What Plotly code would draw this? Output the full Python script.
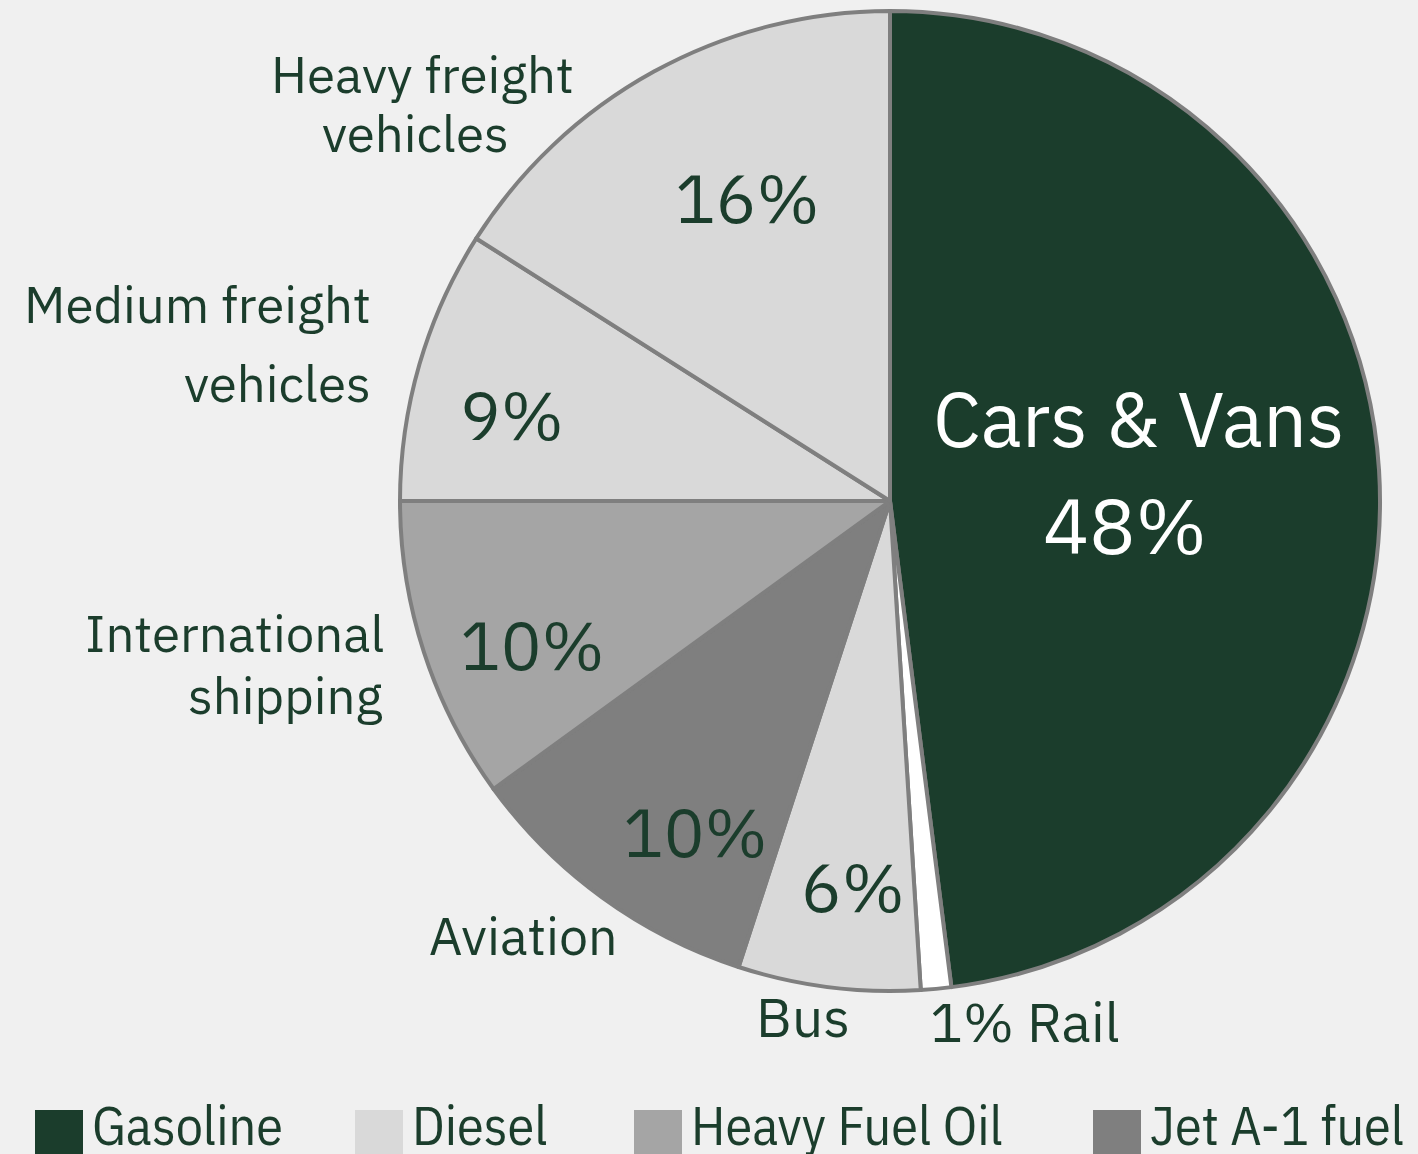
import plotly.graph_objects as go

W, H = 1418, 1154

segments = ["Cars & Vans", "Rail", "Bus", "Aviation", "International shipping",
            "Medium freight vehicles", "Heavy freight vehicles"]
shares = [48, 1, 6, 10, 10, 9, 16]
slice_fuel = ["Gasoline", "Electric", "Diesel", "Jet A-1 fuel", "Heavy Fuel Oil", "Diesel", "Diesel"]

legend_fuels = ["Gasoline", "Diesel", "Heavy Fuel Oil", "Jet A-1 fuel"]
fuel_colors = {"Gasoline": "#1b3d2c", "Diesel": "#d9d9d9", "Heavy Fuel Oil": "#a5a5a5",
               "Jet A-1 fuel": "#7f7f7f", "Electric": "#ffffff"}

TXT = "#1b3d2c"
FONT = "IBM Plex Sans, Noto Sans, sans-serif"
COND = "IBM Plex Sans Condensed, Liberation Sans Narrow, DejaVu Sans Condensed, sans-serif"

def px(x):
    return x / W

def py(y):
    return 1 - y / H

cx, cy, r = 890, 501, 490

fig = go.Figure()
fig.add_trace(go.Pie(
    labels=segments, values=shares, sort=False, direction="clockwise", rotation=0,
    marker=dict(colors=[fuel_colors[f] for f in slice_fuel], line=dict(color="#7f7f7f", width=4)),
    textinfo="none", hoverinfo="label+percent", showlegend=False,
    domain=dict(x=[px(cx - r), px(cx + r)], y=[py(cy + r), py(cy - r)]),
))

ann = []
def add(text, x, y, size, color=TXT, xanchor="center", font=FONT):
    ann.append(dict(text=text, x=px(x), y=py(y), xref="paper", yref="paper",
                    xanchor=xanchor, yanchor="middle", showarrow=False,
                    font=dict(family=font, size=size, color=color)))

# outside category labels
add("Heavy freight", 422, 74, 51)
add("vehicles", 415, 133, 51)
add("Medium freight", 373, 304, 51, xanchor="right")
add("vehicles", 373, 383, 51, xanchor="right")
add("International", 386, 633, 51, xanchor="right")
add("shipping", 384, 695, 51, xanchor="right")
add("Aviation", 523, 935, 52)
add("Bus", 803, 1016, 55)
add("1% Rail", 1025, 1021, 55)

# percent labels
add(f"{shares[6]}%", 748, 197, 68)
add(f"{shares[5]}%", 512, 414, 68)
add(f"{shares[4]}%", 532, 644, 68)
add(f"{shares[3]}%", 695, 831, 68)
add(f"{shares[2]}%", 853, 886, 68)
add(segments[0], 1138, 418, 77, color="#ffffff")
add(f"{shares[0]}%", 1125, 525, 77, color="#ffffff")

# manual legend
shapes = []
leg_x = [35, 355, 634, 1093]
for name, x0 in zip(legend_fuels, leg_x):
    shapes.append(dict(type="rect", xref="paper", yref="paper",
                       x0=px(x0), x1=px(x0 + 48), y0=py(1160), y1=py(1110),
                       fillcolor=fuel_colors[name], line=dict(width=0)))
    add(name, x0 + 55, 1125, 54, xanchor="left", font=COND)

fig.update_layout(
    width=W, height=H, margin=dict(l=0, r=0, t=0, b=0),
    paper_bgcolor="#f0f0f0", plot_bgcolor="#f0f0f0",
    annotations=ann, shapes=shapes,
)

fig.write_html("out.html", config={"displayModeBar": False},
               post_script="document.body.style.margin='0';document.body.style.background='#f0f0f0';")
